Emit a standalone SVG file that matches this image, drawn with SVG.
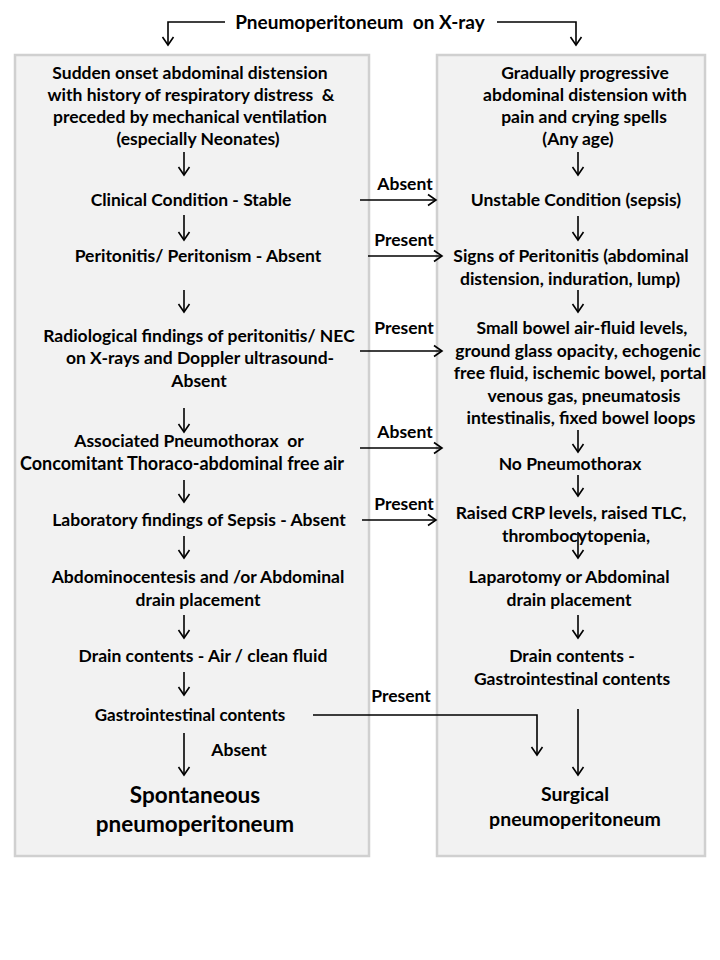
<svg xmlns="http://www.w3.org/2000/svg" width="720" height="960" viewBox="0 0 720 960">
<defs>
<marker id="ah" markerUnits="userSpaceOnUse" markerWidth="12" markerHeight="14" refX="9" refY="7" orient="auto">
<path d="M1,1.5 L9,7 L1,12.5" fill="none" stroke="#000" stroke-width="1.6"/>
</marker>
<style>
.box{fill:#f2f2f2;stroke:#d0d0d0;stroke-width:2.5}
text{font-family:Lato,"Open Sans","Liberation Sans",sans-serif;font-weight:bold;font-size:17.5px;fill:#000;text-anchor:middle;white-space:pre}
.big{font-size:22.5px}
.mid{font-size:19.5px}
.c{fill:none;stroke:#000;stroke-width:1.6;marker-end:url(#ah)}
</style>
</defs>
<rect width="720" height="960" fill="#fff"/>
<g id="leftbox"><rect class="box" x="15" y="55" width="354" height="801"/></g>
<g id="rightbox"><rect class="box" x="437" y="55" width="268" height="801"/></g>

<g id="title"><text x="360" y="29" xml:space="preserve" style="font-size:19px">Pneumoperitoneum  on X-ray</text></g>

<g id="l1"><text x="190" y="79">Sudden onset abdominal distension</text><text x="191" y="101" xml:space="preserve">with history of respiratory distress  &amp;</text><text x="190" y="123">preceded by mechanical ventilation</text><text x="198" y="145">(especially Neonates)</text></g>
<g id="l2"><text x="191" y="206">Clinical Condition - Stable</text></g>
<g id="l3"><text x="198" y="262">Peritonitis/ Peritonism - Absent</text></g>
<g id="l4"><text x="199" y="342">Radiological findings of peritonitis/ NEC</text><text x="200" y="364">on X-rays and Doppler ultrasound-</text><text x="199" y="387">Absent</text></g>
<g id="l5"><text x="189" y="447" xml:space="preserve">Associated Pneumothorax  or</text><text x="182" y="470" style="font-size:18px">Concomitant Thoraco-abdominal free air</text></g>
<g id="l6"><text x="199" y="526">Laboratory findings of Sepsis - Absent</text></g>
<g id="l7"><text x="198" y="583">Abdominocentesis and /or Abdominal</text><text x="198" y="606">drain placement</text></g>
<g id="l8"><text x="203" y="662">Drain contents - Air / clean fluid</text></g>
<g id="l9"><text x="190" y="721" style="font-size:17px">Gastrointestinal contents</text></g>
<g id="l10"><text class="big" x="195" y="803">Spontaneous</text><text class="big" x="195" y="832">pneumoperitoneum</text></g>

<g id="r1"><text x="585" y="79">Gradually progressive</text><text x="585" y="101">abdominal distension with</text><text x="584" y="123">pain and crying spells</text><text x="578" y="145">(Any age)</text></g>
<g id="r2"><text x="576" y="206">Unstable Condition (sepsis)</text></g>
<g id="r3"><text x="571" y="262">Signs of Peritonitis (abdominal</text><text x="570" y="285">distension, induration, lump)</text></g>
<g id="r4"><text x="582" y="334">Small bowel air-fluid levels,</text><text x="578" y="357">ground glass opacity, echogenic</text><text x="580" y="379">free fluid, ischemic bowel, portal</text><text x="584" y="402">venous gas, pneumatosis</text><text x="581" y="424">intestinalis, fixed bowel loops</text></g>
<g id="r5"><text x="570" y="470">No Pneumothorax</text></g>
<g id="r6"><text x="571" y="519">Raised CRP levels, raised TLC,</text><text x="576" y="542">thrombocytopenia,</text></g>
<g id="r7"><text x="569" y="583">Laparotomy or Abdominal</text><text x="569" y="606">drain placement</text></g>
<g id="r8"><text x="572" y="662">Drain contents -</text><text x="572" y="685">Gastrointestinal contents</text></g>
<g id="r9"><text class="mid" x="575" y="801">Surgical</text><text class="mid" x="575" y="826">pneumoperitoneum</text></g>

<g id="connectors">
<path class="c" d="M225,22 H168 V45"/>
<path class="c" d="M497,22 H576 V45"/>
<path class="c" d="M184,152 V175"/>
<path class="c" d="M184,215 V240"/>
<path class="c" d="M184,290 V312"/>
<path class="c" d="M184,408 V432"/>
<path class="c" d="M184,480 V502"/>
<path class="c" d="M184,536 V558"/>
<path class="c" d="M184,615 V638"/>
<path class="c" d="M184,672 V695"/>
<path class="c" d="M184,733 V775"/>
<path class="c" d="M578,152 V175"/>
<path class="c" d="M578,216 V240"/>
<path class="c" d="M578,290 V312"/>
<path class="c" d="M578,430 V452"/>
<path class="c" d="M578,475 V496"/>
<path class="c" d="M578,532 V558"/>
<path class="c" d="M578,615 V638"/>
<path class="c" d="M578,709 V775"/>
<path class="c" d="M360,200 H436"/>
<path class="c" d="M368,256 H442"/>
<path class="c" d="M360,351 H442"/>
<path class="c" d="M360,448 H442"/>
<path class="c" d="M362,520 H436"/>
<path class="c" d="M313,715 H537 V755"/>
<text x="405" y="190">Absent</text>
<text x="404" y="246">Present</text>
<text x="404" y="334">Present</text>
<text x="405" y="438">Absent</text>
<text x="404" y="510">Present</text>
<text x="401" y="702">Present</text>
<text x="239" y="756">Absent</text>
</g>
</svg>
